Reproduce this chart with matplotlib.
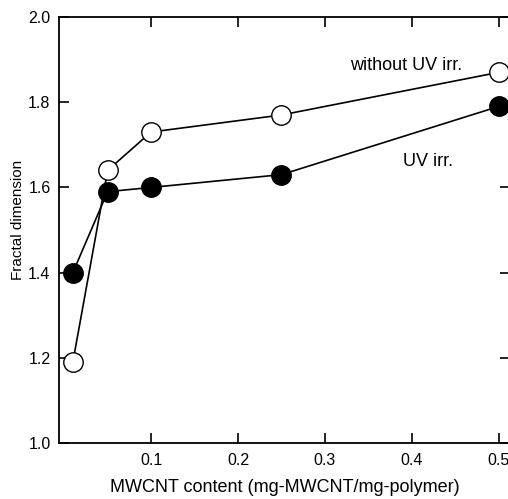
import matplotlib
matplotlib.use("Agg")
import matplotlib.pyplot as plt

content = [0.01, 0.05, 0.1, 0.25, 0.5]
without_uv = [1.19, 1.64, 1.73, 1.77, 1.87]
with_uv = [1.40, 1.59, 1.60, 1.63, 1.79]
xticks = [0.1, 0.2, 0.3, 0.4, 0.5]
yticks = [1.0, 1.2, 1.4, 1.6, 1.8, 2.0]

plt.rcParams['font.family'] = ['Liberation Sans', 'DejaVu Sans']

fig = plt.figure(figsize=(5.08, 4.99), dpi=100)
ax = fig.add_axes([0.116, 0.112, 0.888, 0.854])

ax.plot(content, without_uv, '-o', color='black', lw=1.2, ms=14,
        mfc='white', mec='black', mew=1.0, zorder=3)
ax.plot(content, with_uv, '-o', color='black', lw=1.2, ms=14,
        mfc='black', mec='black', mew=1.0, zorder=3)

ax.set_xlim(-0.006, 0.513)
ax.set_ylim(1.0, 2.0)
ax.set_xticks(xticks)
ax.set_xticklabels([f"{v:.1f}" for v in xticks])
ax.set_yticks(yticks)
ax.set_yticklabels([f"{v:.1f}" for v in yticks])
ax.tick_params(direction='in', length=7, width=1.2, labelsize=11.5,
               top=True, right=True)
ax.tick_params(axis='x', pad=7)
ax.tick_params(axis='y', pad=6)
for s in ax.spines.values():
    s.set_linewidth(1.3)

ax.set_xlabel("MWCNT content (mg-MWCNT/mg-polymer)", fontsize=13, labelpad=8)
ax.set_ylabel("Fractal dimension", fontsize=11)
ax.yaxis.set_label_coords(-0.075, 0.523)

ax.text(0.393, 1.885, "without UV irr.", fontsize=13, ha='center', va='center')
ax.text(0.419, 1.66, "UV irr.", fontsize=13, ha='center', va='center')

fig.savefig("out.png", dpi=100)
